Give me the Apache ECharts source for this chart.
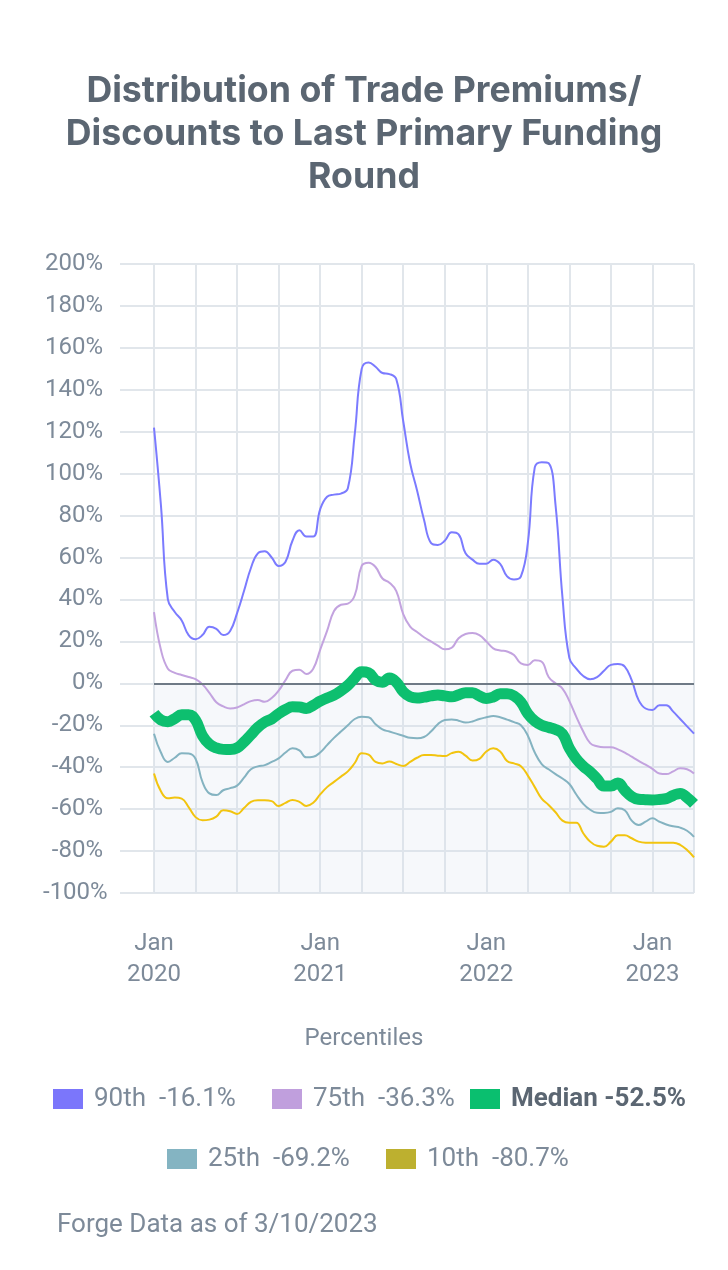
<!DOCTYPE html>
<html>
<head>
<meta charset="utf-8">
<script src="https://cdn.jsdelivr.net/npm/echarts@6/dist/echarts.min.js"></script>
<style>
html,body{margin:0;padding:0;background:#fff;}
#chart{width:728px;height:1270px;}
</style>
</head>
<body>
<div id="chart"></div>
<script>
// Half-month sampling dates (category axis)
var dates = [
'2020-01-01','2020-01-16','2020-02-01','2020-02-16','2020-03-01','2020-03-16','2020-04-01','2020-04-16','2020-05-01','2020-05-16',
'2020-06-01','2020-06-16','2020-07-01','2020-07-16','2020-08-01','2020-08-16','2020-09-01','2020-09-16','2020-10-01','2020-10-16',
'2020-11-01','2020-11-16','2020-12-01','2020-12-16','2021-01-01','2021-01-16','2021-02-01','2021-02-16','2021-03-01','2021-03-16',
'2021-04-01','2021-04-16','2021-05-01','2021-05-16','2021-06-01','2021-06-16','2021-07-01','2021-07-16','2021-08-01','2021-08-16',
'2021-09-01','2021-09-16','2021-10-01','2021-10-16','2021-11-01','2021-11-16','2021-12-01','2021-12-16','2022-01-01','2022-01-16',
'2022-02-01','2022-02-16','2022-03-01','2022-03-16','2022-04-01','2022-04-16','2022-05-01','2022-05-16','2022-06-01','2022-06-16',
'2022-07-01','2022-07-16','2022-08-01','2022-08-16','2022-09-01','2022-09-16','2022-10-01','2022-10-16','2022-11-01','2022-11-16',
'2022-12-01','2022-12-16','2023-01-01','2023-01-16','2023-02-01','2023-02-16','2023-03-01','2023-03-16','2023-04-01'
];

var p90 = [
122,85,40,34,30,23,21,23,27,26,
23,25,33.5,44,55,62,63,60,56,58,
68,73,70,70,83,89,90,90.5,93,119,
150,153,151,148,147.5,145,125,105,92,78,
67,66,68,72,71,62,59,57,57,59,
57,51,49.5,51,67,103,105.5,105,85,41,
12,7,3.5,2,3,6,8.8,9.2,8,1.5,
-8,-12,-12.7,-10.5,-10.5,-13.5,-17,-20.5,-24
];

var p75 = [
34,16,7,5,4,3,2,-0.5,-4.5,-9,
-11,-12,-11.5,-10,-8.5,-8,-8.8,-7,-3.5,1.5,
6,6.5,4.5,7,16,25,34.5,37.5,38,42,
56,57.5,55.5,50,48,44,33,27,24.5,22,
20,18,16.2,17,21.5,23.5,24,23,20,16.7,
15.7,15.2,13.5,9.5,8.8,11,10.3,3,0,-2.5,
-8.5,-16,-23,-28.5,-30,-30.5,-30.5,-31.5,-33,-35,
-37,-38.8,-40.8,-43,-43.3,-42,-40.5,-41,-43
];

var median = [
-14.3,-17.5,-18.3,-16.8,-15,-15,-17.5,-25,-29,-30.8,
-31.5,-31.6,-30.8,-28,-24.5,-21,-18.5,-17,-14.5,-12.5,
-11.2,-11.3,-12,-10.5,-8.5,-7,-5.6,-3.5,-1,2.5,
5.5,5,1.5,0.5,2.5,0.5,-4,-6.4,-7,-6.6,
-6,-5.6,-6,-6.4,-5.5,-4.5,-4.5,-6,-7.2,-6.5,
-5,-5,-6,-9,-14.5,-18,-20,-21,-22,-24,
-31,-36,-39.5,-42.2,-45.5,-49,-49,-47.5,-51,-54,
-55.3,-55.5,-55.6,-55.4,-55,-53.5,-52.5,-54.5,-57.5
];

var p25 = [
-24,-33,-37.5,-35.5,-33.4,-33.5,-36,-47,-52.5,-53.3,
-51,-50,-48.8,-45,-41,-39.6,-39,-37.5,-35.8,-33,
-31,-32,-35.3,-35,-33,-29.5,-26,-23,-20,-17,
-15.9,-16.2,-19.5,-22,-23,-24,-25,-26,-26.2,-25.6,
-23,-19.5,-17.5,-17.2,-17.8,-18.7,-18.2,-17,-16.2,-15.6,
-16.2,-17.3,-18.5,-20,-25,-33,-38.5,-41,-43.3,-45.4,
-48,-53,-57.5,-60.3,-61.7,-61.8,-61.3,-59.6,-60.5,-65.5,
-67.6,-66,-64.4,-66,-67.3,-68.2,-68.8,-70.3,-73.2
];

var p10 = [
-43,-51.5,-54.8,-54.5,-55,-59,-63.8,-65.3,-65,-63.6,
-60.5,-61,-62.3,-59.5,-56.5,-55.8,-55.8,-56.2,-58.5,-57,
-55.6,-56.5,-58.5,-57,-53,-49.5,-47,-44.5,-42,-38,
-33.3,-34,-37.5,-38.2,-37.3,-38.5,-39.4,-37.5,-35.5,-34.2,
-34.2,-34.5,-34.7,-33.3,-32.6,-34.5,-36.8,-36,-32.5,-31,
-32.5,-37,-38.2,-39.5,-44,-49.5,-55,-58,-61.5,-65.5,
-66.5,-66.5,-71.5,-75.5,-77.5,-77.9,-75.5,-72.5,-72.5,-73.9,
-75.5,-76,-76,-76,-76,-76,-77,-79.5,-83
];

var seriesNames = ['90th','75th','Median','25th','10th'];
var legendStats = ['-16.1%','-36.3%','-52.5%','-69.2%','-80.7%'];
var yMin = -100, yMax = 200, yStep = 20;

var lineColors = ['#7b7bff','#c3a3df','#0dbf6f','#84b3c1','#f2c40f'];
var swatchColors = ['#7b76fb','#c09fdd','#0abf6f','#84b4c2','#bdb02f'];

var FONT = 'Roboto';
var TITLE_FONT = 'Inter';
var labelColor = '#7d8a99';
var gridColor = '#e1e6eb';

var chart = echarts.init(document.getElementById('chart'), null, {renderer:'canvas'});

var dataArrays = [p90, p75, median, p25, p10];
var widths = [2, 2, 11, 2, 2];

var series = [];
[0,1,3,4,2].forEach(function(i){
  series.push({
    name: seriesNames[i],
    type: 'line',
    xAxisIndex: 1,
    yAxisIndex: 1,
    data: dataArrays[i],
    smooth: 0.45,
    showSymbol: false,
    symbol: 'none',
    lineStyle: {color: lineColors[i], width: widths[i]},
    itemStyle: {color: lineColors[i]},
    z: i === 2 ? 5 : 3
  });
});

series.push({
  name: 'zeroBand',
  type: 'line',
  xAxisIndex: 1,
  yAxisIndex: 1,
  data: [],
  z: 1,
  markArea: {
    silent: true,
    itemStyle: {color: 'rgba(215,225,235,0.22)'},
    data: [[{yAxis: 0}, {yAxis: yMin}]]
  },
  markLine: {
    silent: true,
    symbol: ['none','none'],
    label: {show: false},
    lineStyle: {color: '#6f7a86', width: 2, type: 'solid'},
    data: [{yAxis: 0}]
  }
});

var legendPos = [
  {left: 53, top: 1086},
  {left: 272, top: 1086},
  {left: 470, top: 1086},
  {left: 167, top: 1146},
  {left: 386, top: 1146}
];

var legends = seriesNames.map(function(n, i){
  var isMed = n === 'Median';
  return {
    left: legendPos[i].left,
    top: legendPos[i].top,
    orient: 'horizontal',
    icon: 'rect',
    itemWidth: 30,
    itemHeight: 20,
    selectedMode: false,
    padding: 0,
    data: [{
      name: n,
      itemStyle: {color: swatchColors[i]},
      textStyle: {
        fontFamily: FONT,
        fontSize: 26,
        fontWeight: isMed ? 'bold' : 'normal',
        color: isMed ? '#5b6672' : labelColor,
        padding: [0,0,0,6]
      }
    }],
    formatter: function(name){
      var k = seriesNames.indexOf(name);
      return name + (name === 'Median' ? ' ' : '  ') + legendStats[k];
    }
  };
});

var option = {
  animation: false,
  backgroundColor: '#ffffff',
  title: [
    {
      text: 'Distribution of Trade Premiums/\nDiscounts to Last Primary Funding\nRound',
      left: 'center',
      top: 70,
      padding: 0,
      textStyle: {fontFamily: TITLE_FONT, fontSize: 35.7, fontWeight: 'bold', color: '#5b6672', lineHeight: 43, align: 'center'}
    },
    {
      text: 'Percentiles',
      left: 'center',
      top: 1027,
      padding: 0,
      textStyle: {fontFamily: FONT, fontSize: 24, fontWeight: 'normal', color: labelColor}
    },
    {
      text: 'Forge Data as of 3/10/2023',
      left: 57,
      top: 1212,
      padding: 0,
      textStyle: {fontFamily: FONT, fontSize: 26, fontWeight: 'normal', color: labelColor}
    }
  ],
  legend: legends,
  grid: [
    {left: 120, right: 34, top: 264, bottom: 377, containLabel: false},
    {left: 154, right: 34, top: 264, bottom: 377, containLabel: false}
  ],
  xAxis: [
    {gridIndex: 0, type: 'value', min: 0, max: 1, show: false},
    {
      gridIndex: 1,
      type: 'category',
      data: dates,
      boundaryGap: false,
      axisLine: {show: false},
      axisTick: {
        show: true,
        length: 12,
        interval: function(idx){ return idx % 6 === 0; },
        lineStyle: {color: gridColor, width: 2}
      },
      splitLine: {
        show: true,
        interval: function(idx){ return idx % 6 === 0; },
        lineStyle: {color: gridColor, width: 2}
      },
      axisLabel: {
        interval: function(idx){ return idx % 24 === 0; },
        formatter: function(v){
          if (v.slice(5) === '01-01') return 'Jan\n' + v.slice(0,4);
          return '';
        },
        margin: 35,
        fontFamily: FONT,
        fontSize: 24,
        lineHeight: 31,
        color: labelColor
      }
    }
  ],
  yAxis: [
    {
      gridIndex: 0,
      type: 'value',
      min: yMin, max: yMax, interval: yStep,
      axisLine: {show: false},
      axisTick: {show: false},
      splitLine: {show: true, lineStyle: {color: gridColor, width: 2}},
      axisLabel: {
        formatter: function(v){
          if (v === yMin) return '{clamp|' + v + '%}';
          return v + '%';
        },
        margin: 17,
        fontFamily: FONT,
        fontSize: 24,
        color: labelColor,
        rich: {
          clamp: {width: 60, align: 'left', fontFamily: FONT, fontSize: 24, color: labelColor}
        }
      }
    },
    {
      gridIndex: 1,
      type: 'value',
      min: yMin, max: yMax, interval: yStep,
      show: false,
      splitLine: {show: false}
    }
  ],
  series: series
};

chart.setOption(option);
</script>
</body>
</html>
